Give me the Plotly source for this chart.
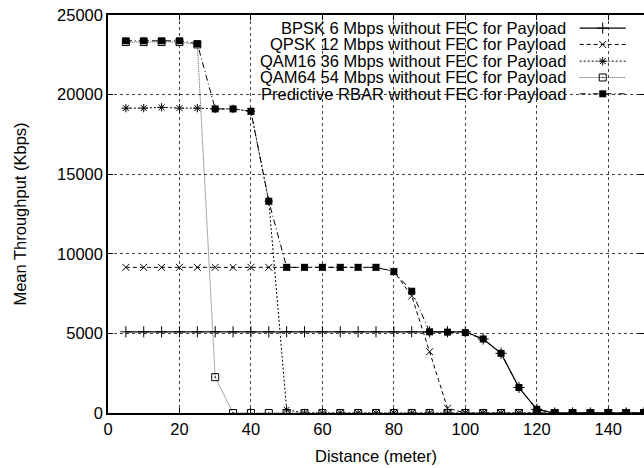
import plotly.graph_objects as go

distance = [5, 10, 15, 20, 25, 30, 35, 40, 45, 50, 55, 60, 65, 70, 75,
            80, 85, 90, 95, 100, 105, 110, 115, 120, 125, 130, 135, 140, 145, 150]

bpsk = [5100] * 20 + [4650, 3750, 1600, 230] + [0] * 6
qpsk = [9150] * 15 + [8900, 7350, 3850, 300] + [0] * 11
qam16 = [19150, 19150, 19200, 19150, 19150, 19100, 19100, 18950, 13300, 200] + [0] * 20
qam64 = [23300, 23300, 23300, 23300, 23150, 2250] + [0] * 24
rbar = [23380, 23380, 23380, 23380, 23200, 19100, 19100, 18950, 13300,
        9150, 9150, 9150, 9150, 9150, 9150, 8880, 7650, 5100, 5080, 5050,
        4650, 3750, 1600, 230, 0, 0, 0, 0, 0, 0]

names = ["BPSK 6 Mbps without FEC for Payload",
         "QPSK 12 Mbps without FEC for Payload",
         "QAM16 36 Mbps without FEC for Payload",
         "QAM64 54 Mbps without FEC for Payload",
         "Predictive RBAR without FEC for Payload"]

x_ticks = [0, 20, 40, 60, 80, 100, 120, 140]
y_ticks = [0, 5000, 10000, 15000, 20000, 25000]
y_ticktext = ["0", "5000", "10000", "15000", "20000", "25000"]

FONT = "Liberation Sans, Arial, Helvetica, sans-serif"
FS = 16.5

styles = [
    dict(line=dict(color="black", width=1.2, dash="solid"),
         marker=dict(symbol="cross-thin", size=8, color="black", line=dict(color="black", width=1))),
    dict(line=dict(color="black", width=1, dash="4px,3px"),
         marker=dict(symbol="x-thin", size=7, color="black", line=dict(color="black", width=1))),
    dict(line=dict(color="black", width=1, dash="2px,2px"),
         marker=dict(symbol="asterisk", size=7, color="black", line=dict(color="black", width=1))),
    dict(line=dict(color="#555555", width=1, dash="1px,1px"),
         marker=dict(symbol="square-open-dot", size=7, color="black", line=dict(color="black", width=1))),
    dict(line=dict(color="black", width=1, dash="6px,3px,1px,3px"),
         marker=dict(symbol="square", size=7, color="black", line=dict(color="black", width=0))),
]

series = [bpsk, qpsk, qam16, qam64, rbar]

fig = go.Figure()
for name, ys, st in zip(names, series, styles):
    fig.add_trace(go.Scatter(x=distance, y=ys, mode="lines+markers", name=name,
                             line=st["line"], marker=st["marker"], showlegend=False))

# custom legend (text right-aligned, sample on right) in overlay paper-like axes
leg_y = [0.967, 0.926, 0.884, 0.843, 0.802]
sx0, sx1, sxc = 0.880, 0.966, 0.923
for name, ly, st in zip(names, leg_y, styles):
    fig.add_trace(go.Scatter(x=[sx0, sx1], y=[ly, ly], mode="lines", line=st["line"],
                             xaxis="x2", yaxis="y2", showlegend=False, hoverinfo="skip"))
    fig.add_trace(go.Scatter(x=[sxc], y=[ly], mode="markers", marker=st["marker"],
                             xaxis="x2", yaxis="y2", showlegend=False, hoverinfo="skip"))
    fig.add_annotation(x=0.858, y=ly, xref="x2", yref="y2", text=name, showarrow=False,
                       xanchor="right", yanchor="middle",
                       font=dict(family=FONT, size=FS, color="black"))

fig.add_shape(type="rect", xref="paper", yref="paper", x0=0.127, x1=1.0, y0=0.776, y1=0.995,
              fillcolor="white", line=dict(width=0), layer="between")

axis_common = dict(showline=True, linecolor="black", linewidth=1.5, mirror="ticks",
                   ticks="inside", ticklen=5, tickcolor="black", tickwidth=1,
                   showgrid=True, gridcolor="#444444", griddash="dot", gridwidth=1,
                   zeroline=False, automargin=False,
                   tickfont=dict(family=FONT, size=FS, color="black"))

fig.update_layout(
    width=644, height=468,
    margin=dict(l=108, r=0, t=15, b=55),
    paper_bgcolor="white", plot_bgcolor="white",
    font=dict(family=FONT, size=FS, color="black"),
    xaxis=dict(range=[0, 150], tickvals=x_ticks,
               title=dict(text="Distance (meter)", font=dict(family=FONT, size=FS), standoff=14),
               **axis_common),
    yaxis=dict(range=[0, 25000], tickvals=y_ticks, ticktext=y_ticktext,
               title=dict(text="Mean Throughput (Kbps)", font=dict(family=FONT, size=FS), standoff=26),
               **axis_common),
    xaxis2=dict(range=[0, 1], overlaying="x", visible=False),
    yaxis2=dict(range=[0, 1], overlaying="y", visible=False),
)

fig.write_html("out.html", config={"displayModeBar": False},
               post_script="document.body.style.margin='0px';document.body.style.overflow='hidden';")
